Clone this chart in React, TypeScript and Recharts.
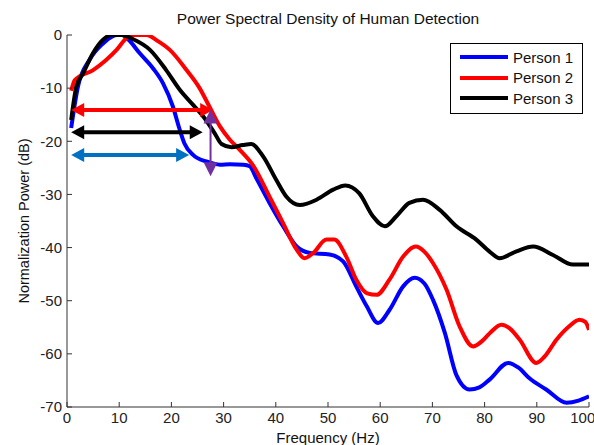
import React from "react";
import {
  LineChart,
  Line,
  XAxis,
  YAxis,
  ReferenceLine,
  Legend,
} from "recharts";

const FREQ_TICKS = [0, 10, 20, 30, 40, 50, 60, 70, 80, 90, 100];
const POWER_TICKS = [-70, -60, -50, -40, -30, -20, -10, 0];

const p1Freq = [0.8, 2.1, 4.3, 6.9, 8.6, 9.6, 10.6, 11.8, 13.9, 16.5, 18.4, 20.3, 21.5, 22.5, 24.2, 26.7, 29.3, 31.2, 33.8, 35, 36.3, 38.8, 41.4, 44, 46.5, 50.3, 52.9, 55.4, 57.4, 59.6, 61.8, 64.4, 66.6, 68.5, 70.1, 72.4, 74.6, 77.1, 79, 81, 84.5, 86.5, 88.6, 91.8, 95.7, 98, 100];
const p1Power = [-17.5, -9.7, -4.7, -1.6, -0.3, 0, 0, -0.9, -3.4, -6.3, -9.1, -13.5, -17.5, -20.4, -22.6, -23.8, -24.4, -24.3, -24.4, -24.7, -27, -31.6, -36, -39.8, -41, -41.3, -42.6, -47.3, -51, -54.2, -51.7, -47.3, -45.7, -46.8, -49.8, -56.1, -64, -66.7, -66.3, -64.8, -61.7, -62.6, -64.6, -66.7, -69.2, -68.8, -68];

const p2Freq = [0.8, 1.5, 5, 7.5, 9.5, 11.4, 13, 15.2, 17.5, 19.7, 22.9, 25.4, 27.3, 29.3, 31.2, 33.1, 35.7, 38.8, 41.4, 44, 45.5, 47.2, 49.7, 51.2, 53.5, 55.4, 57.5, 59.3, 61.8, 64.4, 66.8, 68.5, 70.1, 72.7, 75.2, 77.8, 79.5, 81, 83.2, 84.8, 86.7, 89.9, 91.5, 93.8, 96, 98.2, 99.3, 100];
const p2Power = [-10.5, -8.5, -6.6, -4.7, -2.8, -0.6, 0, 0, -1.2, -2.8, -6.6, -10, -13.5, -17.2, -19.7, -21.6, -24.6, -30.4, -35.4, -40.4, -42, -41, -38.5, -38.5, -41.7, -46, -48.6, -48.9, -46, -41.7, -39.8, -40.8, -42.9, -47.9, -54.8, -58.6, -57.6, -56.1, -54.5, -55.2, -57.3, -61.7, -60.5, -57.3, -55, -53.6, -54, -55.5];

const p3Freq = [0.8, 1.8, 3.1, 5, 6.9, 8.5, 10.5, 12.5, 15.9, 19, 21.6, 24.2, 26.4, 28.3, 29.6, 31.5, 33.7, 35.3, 37.6, 40.1, 42, 44.6, 47.8, 51, 53.3, 56, 58.6, 60.9, 63.1, 65.6, 68.2, 71.4, 74.6, 78.4, 81, 82.9, 86.1, 89.3, 93.1, 96.9, 100];
const p3Power = [-16, -9.7, -7.2, -3.4, -0.9, 0, 0, -0.7, -2.8, -6.6, -10.3, -13.2, -15.7, -18.5, -20.5, -21.1, -20.7, -20.5, -22.9, -27.3, -30.4, -32, -31, -29.1, -28.3, -29.8, -34.1, -36, -34.1, -31.6, -31, -32.9, -36, -38.5, -40.8, -42, -40.7, -39.8, -41.4, -43.2, -43.2];

const SERIES = [
  { name: "Person 1", color: "#0000ff", freq: p1Freq, power: p1Power },
  { name: "Person 2", color: "#ff0000", freq: p2Freq, power: p2Power },
  { name: "Person 3", color: "#000000", freq: p3Freq, power: p3Power },
];

// bandwidth markers: [from freq, to freq, level]
const ARROWS_H = [
  { from: 0.8, to: 28, level: -14.1, color: "#ff0000" },
  { from: 0.8, to: 26, level: -18.3, color: "#000000" },
  { from: 0.8, to: 23.4, level: -22.6, color: "#0070c0" },
];
const ARROW_V = { freq: 27.5, from: -14, to: -26.6, color: "#7030a0" };

const FONT = "'Liberation Sans', Arial, sans-serif";

function arrowShape(width: number, head: number, halfW: number) {
  return (props: any) => {
    const { x1, y1, x2, y2, stroke } = props;
    const dx = x2 - x1;
    const dy = y2 - y1;
    const len = Math.sqrt(dx * dx + dy * dy) || 1;
    const ux = dx / len;
    const uy = dy / len;
    const nx = -uy;
    const ny = ux;
    const tri = (tx: number, ty: number, dir: number) => {
      const bx = tx - dir * ux * head;
      const by = ty - dir * uy * head;
      return `${tx},${ty} ${bx + nx * halfW},${by + ny * halfW} ${bx - nx * halfW},${by - ny * halfW}`;
    };
    return (
      <g>
        <line
          x1={x1 + ux * head * 0.8}
          y1={y1 + uy * head * 0.8}
          x2={x2 - ux * head * 0.8}
          y2={y2 - uy * head * 0.8}
          stroke={stroke}
          strokeWidth={width}
        />
        <polygon points={tri(x2, y2, 1)} fill={stroke} />
        <polygon points={tri(x1, y1, -1)} fill={stroke} />
      </g>
    );
  };
}

const CustomLegend = () => (
  <div
    style={{
      border: "1px solid #000",
      background: "#fff",
      padding: "3px 0 4px 0",
      fontFamily: FONT,
      fontSize: 15,
      boxSizing: "border-box",
      width: 133,
    }}
  >
    {SERIES.map((s) => (
      <div
        key={s.name}
        style={{ display: "flex", alignItems: "center", height: 20.5 }}
      >
        <div
          style={{
            width: 48,
            height: 4,
            background: s.color,
            marginLeft: 9,
            marginRight: 5,
          }}
        />
        <span style={{ color: "#111" }}>{s.name}</span>
      </div>
    ))}
  </div>
);

export default function App() {
  const tickStyle = { fontFamily: FONT, fontSize: 15, fill: "#222" };
  return (
    <div
      style={{
        position: "absolute",
        left: 0,
        top: 0,
        width: 594,
        height: 445,
        background: "#fff",
      }}
    >
      <div
        style={{
          position: "absolute",
          top: 10,
          left: 67,
          width: 522,
          textAlign: "center",
          fontFamily: FONT,
          fontSize: 15.5,
          color: "#111",
        }}
      >
        Power Spectral Density of Human Detection
      </div>
      <LineChart
        width={594}
        height={445}
        margin={{ top: 35, right: 5, bottom: 0, left: 27 }}
      >
        <XAxis
          xAxisId="bottom"
          type="number"
          dataKey="x"
          domain={[0, 100]}
          ticks={FREQ_TICKS}
          allowDataOverflow
          height={38}
          tickSize={-5}
          tickMargin={10}
          stroke="#333"
          tick={tickStyle}
          label={{
            value: "Frequency (Hz)",
            position: "center",
            dy: 12,
            style: { fontFamily: FONT, fontSize: 15, fill: "#111" },
          }}
        />
        <XAxis
          xAxisId="top"
          orientation="top"
          type="number"
          domain={[0, 100]}
          ticks={FREQ_TICKS}
          allowDataOverflow
          height={0}
          tickSize={-5}
          tick={false}
          stroke="#333"
        />
        <YAxis
          yAxisId="left"
          type="number"
          domain={[-70, 0]}
          ticks={POWER_TICKS}
          allowDataOverflow
          width={40}
          tickSize={-5}
          tickMargin={10}
          stroke="#333"
          tick={tickStyle}
          label={{
            value: "Normalization Power (dB)",
            angle: -90,
            position: "center",
            dx: -23,
            style: { fontFamily: FONT, fontSize: 14.5, fill: "#111" },
          }}
        />
        <YAxis
          yAxisId="right"
          orientation="right"
          type="number"
          domain={[-70, 0]}
          ticks={POWER_TICKS}
          allowDataOverflow
          width={0}
          tickSize={-5}
          tick={false}
          stroke="#333"
        />
        {SERIES.map((s) => (
          <Line
            key={s.name}
            xAxisId="bottom"
            yAxisId="left"
            name={s.name}
            data={s.freq.map((f, i) => ({ x: f, y: s.power[i] }))}
            dataKey="y"
            type="monotone"
            stroke={s.color}
            strokeWidth={4}
            dot={false}
            isAnimationActive={false}
          />
        ))}
        {ARROWS_H.map((a, i) => (
          <ReferenceLine
            key={i}
            xAxisId="bottom"
            yAxisId="left"
            segment={[
              { x: a.from, y: a.level },
              { x: a.to, y: a.level },
            ]}
            stroke={a.color}
            shape={arrowShape(4, 13, 7)}
          />
        ))}
        <ReferenceLine
          xAxisId="bottom"
          yAxisId="left"
          segment={[
            { x: ARROW_V.freq, y: ARROW_V.from },
            { x: ARROW_V.freq, y: ARROW_V.to },
          ]}
          stroke={ARROW_V.color}
          shape={arrowShape(2, 14, 7)}
        />
        <Legend
          layout="horizontal"
          verticalAlign="middle"
          align="center"
          wrapperStyle={{ top: 43, left: 450, width: 133 }}
          content={<CustomLegend />}
        />
      </LineChart>
    </div>
  );
}
